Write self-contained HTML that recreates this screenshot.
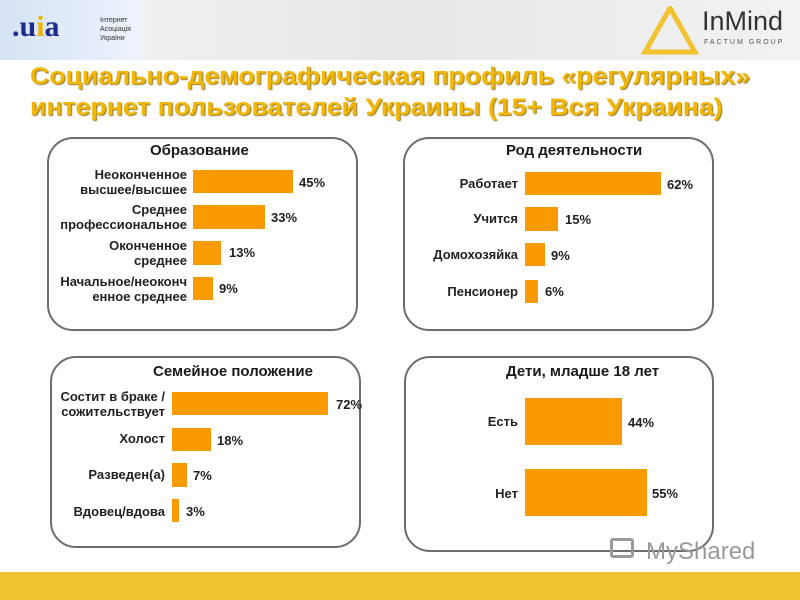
<!DOCTYPE html>
<html><head><meta charset="utf-8"><style>
body{margin:0;width:800px;height:600px;position:relative;background:#fff;font-family:"Liberation Sans","DejaVu Sans",sans-serif;overflow:hidden}
.a{position:absolute}
.box{position:absolute;border:2px solid #6d6d6d;border-radius:26px;box-sizing:border-box}
.bar{position:absolute;background:#f99a00}
.t{position:absolute;font-weight:bold;font-size:15px;color:#1a1a1a;white-space:nowrap}
.l{position:absolute;font-weight:bold;font-size:13px;color:#222;text-align:right;line-height:15px;white-space:nowrap}
.p{position:absolute;font-weight:bold;font-size:13px;color:#222}
.h{position:absolute;left:30px;font-weight:bold;font-size:24px;color:#f2b705;text-shadow:1px 1px 1px #9a7a20;white-space:nowrap;transform:scaleX(1.11);transform-origin:0 0}
</style></head><body>
<div class="a" style="left:0;top:0;width:800px;height:60px;background:linear-gradient(90deg,#f4f4f4,#e8e8e8 50%,#f2f2f2)"></div>
<div class="a" style="left:0;top:0;width:142px;height:60px;background:linear-gradient(90deg,#d5e3f5,#eef3fb)"></div>
<div class="a" style="left:12px;top:10px;font-weight:bold;font-size:30px;color:#1c2e8c;font-family:'Liberation Serif',serif">.<span>u</span><span style="color:#f0b400">i</span>a</div>
<div class="a" style="left:100px;top:16px;font-size:7px;color:#333;line-height:9px">Інтернет<br>Асоціація<br>України</div>
<svg class="a" style="left:640px;top:6px" width="60" height="50"><polygon points="30,2 5,46 55,46" fill="none" stroke="#f2c230" stroke-width="5"/></svg>
<div class="a" style="left:702px;top:6px;font-size:27px;color:#333">InMind</div>
<div class="a" style="left:704px;top:39px;font-size:7px;letter-spacing:2px;color:#555">FACTUM GROUP</div>
<div class="h" style="top:63px">Социально-демографическая профиль «регулярных»</div>
<div class="h" style="top:94px">интернет пользователей Украины (15+ Вся Украина)</div>

<div class="box" style="left:47px;top:137px;width:311px;height:194px"></div>
<div class="t" style="left:150px;top:142px">Образование</div>
<div class="l" style="right:613px;top:167px">Неоконченное<br>высшее/высшее</div>
<div class="bar" style="left:193px;top:170px;width:100px;height:23px"></div><div class="p" style="left:299px;top:175px">45%</div>
<div class="l" style="right:613px;top:202px">Среднее<br>профессиональное</div>
<div class="bar" style="left:193px;top:205px;width:72px;height:24px"></div><div class="p" style="left:271px;top:210px">33%</div>
<div class="l" style="right:613px;top:238px">Оконченное<br>среднее</div>
<div class="bar" style="left:193px;top:241px;width:28px;height:24px"></div><div class="p" style="left:229px;top:245px">13%</div>
<div class="l" style="right:613px;top:274px">Начальное/неоконч<br>енное среднее</div>
<div class="bar" style="left:193px;top:277px;width:20px;height:23px"></div><div class="p" style="left:219px;top:281px">9%</div>

<div class="box" style="left:403px;top:137px;width:311px;height:194px"></div>
<div class="t" style="left:506px;top:142px">Род деятельности</div>
<div class="l" style="right:282px;top:176px">Работает</div>
<div class="bar" style="left:525px;top:172px;width:136px;height:23px"></div><div class="p" style="left:667px;top:177px">62%</div>
<div class="l" style="right:282px;top:211px">Учится</div>
<div class="bar" style="left:525px;top:207px;width:33px;height:24px"></div><div class="p" style="left:565px;top:212px">15%</div>
<div class="l" style="right:282px;top:247px">Домохозяйка</div>
<div class="bar" style="left:525px;top:243px;width:20px;height:23px"></div><div class="p" style="left:551px;top:248px">9%</div>
<div class="l" style="right:282px;top:284px">Пенсионер</div>
<div class="bar" style="left:525px;top:280px;width:13px;height:23px"></div><div class="p" style="left:545px;top:284px">6%</div>

<div class="box" style="left:50px;top:356px;width:311px;height:192px"></div>
<div class="t" style="left:153px;top:363px">Семейное положение</div>
<div class="l" style="right:635px;top:389px">Состит в браке /<br>сожительствует</div>
<div class="bar" style="left:172px;top:392px;width:156px;height:23px"></div><div class="p" style="left:336px;top:397px">72%</div>
<div class="l" style="right:635px;top:431px">Холост</div>
<div class="bar" style="left:172px;top:428px;width:39px;height:23px"></div><div class="p" style="left:217px;top:433px">18%</div>
<div class="l" style="right:635px;top:467px">Разведен(а)</div>
<div class="bar" style="left:172px;top:463px;width:15px;height:24px"></div><div class="p" style="left:193px;top:468px">7%</div>
<div class="l" style="right:635px;top:504px">Вдовец/вдова</div>
<div class="bar" style="left:172px;top:499px;width:7px;height:23px"></div><div class="p" style="left:186px;top:504px">3%</div>

<div class="box" style="left:404px;top:356px;width:310px;height:196px"></div>
<div class="t" style="left:506px;top:363px">Дети, младше 18 лет</div>
<div class="l" style="right:282px;top:414px">Есть</div>
<div class="bar" style="left:525px;top:398px;width:97px;height:47px"></div><div class="p" style="left:628px;top:415px">44%</div>
<div class="l" style="right:282px;top:486px">Нет</div>
<div class="bar" style="left:525px;top:469px;width:122px;height:47px"></div><div class="p" style="left:652px;top:486px">55%</div>

<div class="a" style="left:610px;top:538px;width:24px;height:20px;border:3px solid #999;box-sizing:border-box;border-radius:3px"></div>
<div class="a" style="left:646px;top:538px;font-size:24px;color:#9a9a9a">MyShared</div>
<div class="a" style="left:0;top:572px;width:800px;height:28px;background:#f0c332"></div>
</body></html>
